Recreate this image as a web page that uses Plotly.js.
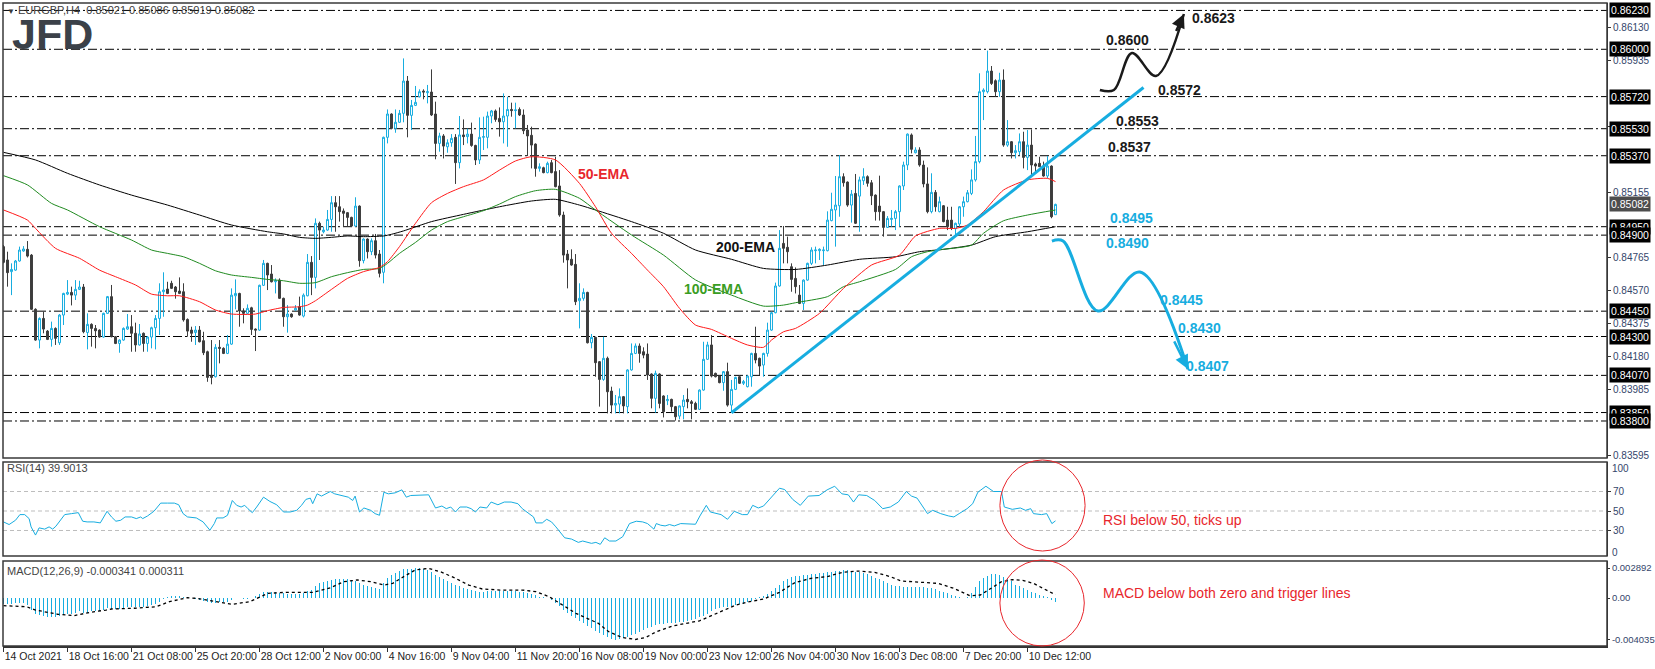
<!DOCTYPE html>
<html><head><meta charset="utf-8">
<script src="https://cdn.plot.ly/plotly-3.0.1.min.js"></script>
<style>html,body{margin:0;padding:0;background:#fff;}#chart{width:1655px;height:669px;}</style>
</head><body><div id="chart"></div>
<script>
// ---------------- DATA ----------------
const symbol = 'EURGBP,H4';
const xLabels = ['14 Oct 2021','18 Oct 16:00','21 Oct 08:00','25 Oct 20:00','28 Oct 12:00','2 Nov 00:00','4 Nov 16:00','9 Nov 04:00','11 Nov 20:00','16 Nov 08:00','19 Nov 00:00','23 Nov 12:00','26 Nov 04:00','30 Nov 16:00','3 Dec 08:00','7 Dec 20:00','10 Dec 12:00'];
const barsPerLabel = 16;

const open = [0.84832,0.84753,0.84684,0.84693,0.84747,0.84806,0.84816,0.84782,0.84461,0.84279,0.84407,0.84332,0.84283,0.84348,0.84263,0.84427,0.84551,0.84561,0.84545,0.84579,0.84593,0.84324,0.84372,0.84348,0.84338,0.84297,0.84437,0.84536,0.84299,0.84259,0.84279,0.84344,0.84358,0.84319,0.84250,0.84319,0.84259,0.84297,0.84352,0.84407,0.84565,0.84581,0.84615,0.84593,0.84569,0.84565,0.84401,0.84338,0.84324,0.84338,0.84275,0.84210,0.84066,0.84062,0.84236,0.84230,0.84200,0.84255,0.84541,0.84555,0.84451,0.84437,0.84470,0.84344,0.84338,0.84603,0.84733,0.84670,0.84624,0.84634,0.84526,0.84417,0.84433,0.84457,0.84476,0.84421,0.84541,0.84739,0.84650,0.84970,0.84920,0.84930,0.84993,0.85092,0.85068,0.85043,0.85033,0.85005,0.84954,0.85072,0.84749,0.84877,0.84802,0.84867,0.84788,0.84680,0.85479,0.85617,0.85532,0.85568,0.85621,0.85812,0.85609,0.85668,0.85719,0.85753,0.85743,0.85747,0.85617,0.85443,0.85487,0.85423,0.85447,0.85479,0.85329,0.85493,0.85483,0.85498,0.85431,0.85345,0.85479,0.85479,0.85605,0.85635,0.85591,0.85571,0.85605,0.85644,0.85637,0.85644,0.85611,0.85522,0.85491,0.85439,0.85295,0.85299,0.85270,0.85329,0.85276,0.85191,0.85019,0.84788,0.84757,0.84727,0.84512,0.84526,0.84561,0.84263,0.84295,0.84151,0.84046,0.84171,0.83977,0.83894,0.83900,0.83944,0.83885,0.84102,0.84200,0.84244,0.84210,0.84196,0.84078,0.83934,0.84078,0.83948,0.83920,0.83928,0.83885,0.83829,0.83885,0.83928,0.83914,0.83904,0.83869,0.83983,0.84165,0.84250,0.84082,0.84066,0.84027,0.84092,0.83894,0.83987,0.84062,0.84023,0.84003,0.84062,0.84200,0.84171,0.84131,0.84200,0.84338,0.84441,0.84599,0.84851,0.84828,0.84713,0.84644,0.84545,0.84496,0.84634,0.84733,0.84808,0.84808,0.84808,0.84808,0.84986,0.85049,0.85074,0.85246,0.85214,0.85078,0.85147,0.85131,0.85222,0.85246,0.85210,0.85137,0.85072,0.85039,0.84946,0.84993,0.84999,0.85039,0.85191,0.85315,0.85493,0.85388,0.85404,0.85315,0.85203,0.85039,0.85153,0.85039,0.85074,0.84989,0.84989,0.84938,0.84966,0.85068,0.85098,0.85147,0.85227,0.85335,0.85749,0.85749,0.85871,0.85814,0.85749,0.85818,0.85433,0.85453,0.85388,0.85394,0.85453,0.85360,0.85433,0.85321,0.85325,0.85309,0.85250,0.85309,0.85021];
const high = [0.84841,0.84802,0.84733,0.84753,0.84832,0.84835,0.84865,0.84788,0.84467,0.84413,0.84447,0.84338,0.84388,0.84354,0.84433,0.84559,0.84634,0.84595,0.84634,0.84630,0.84611,0.84437,0.84378,0.84368,0.84342,0.84441,0.84540,0.84605,0.84303,0.84283,0.84354,0.84433,0.84427,0.84382,0.84374,0.84324,0.84303,0.84358,0.84427,0.84615,0.84680,0.84624,0.84630,0.84599,0.84650,0.84615,0.84407,0.84358,0.84362,0.84362,0.84328,0.84216,0.84279,0.84255,0.84279,0.84236,0.84309,0.84585,0.84638,0.84559,0.84467,0.84490,0.84476,0.84348,0.84607,0.84753,0.84737,0.84723,0.84644,0.84644,0.84530,0.84486,0.84437,0.84486,0.84536,0.84555,0.84788,0.84776,0.84999,0.84980,0.84950,0.85049,0.85131,0.85131,0.85131,0.85058,0.85037,0.85009,0.85124,0.85076,0.84881,0.84881,0.84881,0.84907,0.84812,0.85483,0.85644,0.85621,0.85644,0.85641,0.85946,0.85842,0.85700,0.85783,0.85763,0.85763,0.85789,0.85881,0.85690,0.85506,0.85498,0.85467,0.85498,0.85498,0.85605,0.85585,0.85530,0.85566,0.85435,0.85597,0.85601,0.85631,0.85641,0.85644,0.85656,0.85739,0.85719,0.85684,0.85684,0.85656,0.85644,0.85552,0.85542,0.85443,0.85325,0.85305,0.85335,0.85345,0.85364,0.85285,0.85039,0.84812,0.84816,0.84788,0.84615,0.84585,0.84565,0.84315,0.84299,0.84155,0.84299,0.84181,0.84003,0.83954,0.83993,0.83948,0.84106,0.84259,0.84259,0.84259,0.84236,0.84259,0.84082,0.84098,0.84082,0.83952,0.83954,0.83932,0.83889,0.83892,0.83954,0.83993,0.83924,0.83914,0.83987,0.84269,0.84269,0.84309,0.84086,0.84070,0.84096,0.84145,0.84043,0.84062,0.84072,0.84043,0.84070,0.84204,0.84358,0.84175,0.84204,0.84382,0.84447,0.84619,0.84930,0.84954,0.84891,0.84733,0.84709,0.84605,0.84638,0.84737,0.84828,0.84832,0.84822,0.84832,0.85041,0.85151,0.85250,0.85374,0.85266,0.85218,0.85167,0.85262,0.85246,0.85296,0.85254,0.85226,0.85141,0.85252,0.85043,0.85013,0.85049,0.85049,0.85195,0.85335,0.85502,0.85502,0.85420,0.85420,0.85341,0.85301,0.85266,0.85167,0.85128,0.85078,0.85068,0.85068,0.84974,0.85072,0.85128,0.85167,0.85289,0.85487,0.85858,0.85769,0.85992,0.85901,0.85822,0.85861,0.85881,0.85581,0.85457,0.85433,0.85502,0.85512,0.85522,0.85526,0.85329,0.85364,0.85335,0.85368,0.85313,0.85086];
const low = [0.84733,0.84595,0.84545,0.84689,0.84743,0.84802,0.84768,0.84457,0.84275,0.84230,0.84319,0.84279,0.84240,0.84250,0.84250,0.84368,0.84545,0.84484,0.84516,0.84575,0.84319,0.84224,0.84240,0.84230,0.84293,0.84293,0.84433,0.84295,0.84255,0.84204,0.84275,0.84340,0.84210,0.84210,0.84246,0.84210,0.84210,0.84230,0.84224,0.84309,0.84417,0.84551,0.84581,0.84524,0.84551,0.84388,0.84299,0.84269,0.84250,0.84265,0.84190,0.84032,0.84017,0.84058,0.84141,0.84196,0.84196,0.84251,0.84461,0.84358,0.84378,0.84433,0.84309,0.84214,0.84334,0.84599,0.84575,0.84620,0.84555,0.84522,0.84358,0.84323,0.84411,0.84453,0.84423,0.84413,0.84538,0.84545,0.84585,0.84753,0.84911,0.84926,0.84920,0.84920,0.84980,0.84950,0.84950,0.84950,0.84950,0.84713,0.84733,0.84762,0.84782,0.84762,0.84650,0.84615,0.85443,0.85526,0.85506,0.85564,0.85568,0.85479,0.85522,0.85664,0.85715,0.85704,0.85680,0.85605,0.85349,0.85394,0.85354,0.85388,0.85423,0.85203,0.85295,0.85433,0.85443,0.85423,0.85315,0.85321,0.85404,0.85414,0.85562,0.85571,0.85483,0.85443,0.85423,0.85601,0.85532,0.85605,0.85498,0.85368,0.85295,0.85246,0.85276,0.85266,0.85266,0.85266,0.85183,0.85009,0.84737,0.84585,0.84719,0.84486,0.84348,0.84512,0.84259,0.84230,0.84062,0.83885,0.84038,0.83845,0.83845,0.83845,0.83845,0.83845,0.83845,0.84098,0.84196,0.84145,0.84171,0.84043,0.83875,0.83849,0.83875,0.83821,0.83894,0.83855,0.83802,0.83810,0.83810,0.83875,0.83810,0.83865,0.83865,0.83979,0.84161,0.84058,0.84058,0.84023,0.83979,0.83885,0.83849,0.83983,0.84019,0.84013,0.83999,0.84003,0.84141,0.84072,0.84062,0.84181,0.84334,0.84437,0.84595,0.84733,0.84733,0.84565,0.84555,0.84492,0.84457,0.84630,0.84723,0.84733,0.84753,0.84723,0.84804,0.84982,0.84832,0.85009,0.85187,0.85068,0.84974,0.84966,0.84920,0.85197,0.85187,0.85078,0.84986,0.84986,0.84891,0.84942,0.84950,0.84930,0.84950,0.85167,0.85285,0.85384,0.85384,0.85305,0.85183,0.85029,0.85029,0.85039,0.85035,0.84976,0.84930,0.84930,0.84891,0.84950,0.85009,0.85094,0.85137,0.85217,0.85325,0.85581,0.85739,0.85789,0.85719,0.85719,0.85423,0.85423,0.85354,0.85354,0.85374,0.85295,0.85285,0.85246,0.85266,0.85305,0.85246,0.85236,0.85000,0.85019];
const close = [0.84739,0.84678,0.84697,0.84747,0.84812,0.84818,0.84776,0.84461,0.84279,0.84407,0.84344,0.84283,0.84348,0.84289,0.84427,0.84555,0.84561,0.84545,0.84579,0.84593,0.84328,0.84372,0.84348,0.84334,0.84297,0.84437,0.84536,0.84299,0.84259,0.84279,0.84348,0.84358,0.84319,0.84250,0.84315,0.84259,0.84297,0.84352,0.84407,0.84565,0.84575,0.84555,0.84585,0.84565,0.84555,0.84398,0.84332,0.84319,0.84338,0.84269,0.84204,0.84058,0.84058,0.84236,0.84230,0.84200,0.84255,0.84545,0.84555,0.84451,0.84437,0.84467,0.84342,0.84338,0.84603,0.84733,0.84664,0.84624,0.84630,0.84526,0.84417,0.84433,0.84417,0.84467,0.84427,0.84545,0.84739,0.84650,0.84970,0.84930,0.84930,0.84993,0.85092,0.85068,0.85039,0.85029,0.85005,0.84954,0.85072,0.84749,0.84877,0.84802,0.84867,0.84782,0.84674,0.85479,0.85617,0.85532,0.85568,0.85621,0.85812,0.85609,0.85668,0.85686,0.85749,0.85747,0.85749,0.85611,0.85443,0.85487,0.85427,0.85447,0.85473,0.85329,0.85493,0.85483,0.85498,0.85431,0.85345,0.85479,0.85483,0.85605,0.85635,0.85585,0.85571,0.85605,0.85644,0.85637,0.85641,0.85611,0.85518,0.85487,0.85433,0.85295,0.85305,0.85270,0.85325,0.85270,0.85187,0.85019,0.84782,0.84753,0.84723,0.84506,0.84526,0.84561,0.84263,0.84295,0.84145,0.84046,0.84171,0.83973,0.83894,0.83904,0.83944,0.83889,0.84102,0.84200,0.84244,0.84200,0.84190,0.84072,0.83934,0.84082,0.83904,0.83855,0.83928,0.83885,0.83825,0.83889,0.83924,0.83914,0.83904,0.83869,0.83983,0.84165,0.84250,0.84066,0.84062,0.84027,0.84092,0.83894,0.83987,0.84058,0.84023,0.84033,0.84066,0.84200,0.84161,0.84125,0.84200,0.84338,0.84441,0.84599,0.84822,0.84822,0.84802,0.84638,0.84595,0.84496,0.84634,0.84733,0.84812,0.84812,0.84816,0.84812,0.84989,0.85053,0.85078,0.85246,0.85210,0.85078,0.85143,0.84970,0.85227,0.85246,0.85207,0.85133,0.85039,0.85039,0.84946,0.84999,0.84999,0.85039,0.85191,0.85315,0.85498,0.85408,0.85404,0.85315,0.85203,0.85039,0.85153,0.85068,0.85098,0.84980,0.84950,0.84940,0.84970,0.85068,0.85098,0.85151,0.85227,0.85335,0.85749,0.85759,0.85871,0.85798,0.85749,0.85818,0.85433,0.85453,0.85388,0.85400,0.85453,0.85360,0.85433,0.85315,0.85309,0.85305,0.85250,0.85309,0.85009,0.85082];

const ema200X = [0,8,16,24,32,41,49,57,66,70,74,78,82,86,90,95,97,100,107,115,124,132,138,144,148,157,165,173,182,190,198,206,214,223,229,235,242,248,256,263];
const ema200Y = [0.85390,0.85345,0.85266,0.85197,0.85137,0.85078,0.85019,0.84960,0.84920,0.84907,0.84887,0.84881,0.84887,0.84895,0.84891,0.84895,0.84905,0.84925,0.84980,0.85023,0.85068,0.85102,0.85112,0.85078,0.85049,0.84980,0.84911,0.84812,0.84757,0.84703,0.84697,0.84723,0.84757,0.84772,0.84802,0.84816,0.84841,0.84891,0.84920,0.84950];
const ema100X = [0,6,12,16,24,32,37,41,45,49,53,57,62,66,70,74,78,82,86,90,94,96,99,103,107,111,115,120,124,128,133,138,144,148,157,165,173,182,190,195,198,206,210,214,223,227,231,235,242,245,250,256,263];
const ema100Y = [0.85252,0.85197,0.85088,0.85049,0.84950,0.84871,0.84812,0.84792,0.84772,0.84733,0.84689,0.84664,0.84650,0.84638,0.84630,0.84615,0.84619,0.84654,0.84678,0.84697,0.84703,0.84733,0.84792,0.84857,0.84930,0.84980,0.85009,0.85045,0.85084,0.85128,0.85163,0.85171,0.85118,0.85049,0.84901,0.84782,0.84635,0.84545,0.84480,0.84486,0.84500,0.84536,0.84595,0.84624,0.84697,0.84772,0.84802,0.84816,0.84841,0.84911,0.84985,0.85019,0.85049];
const ema50X = [0,6,8,13,19,24,28,33,37,41,44,49,53,57,63,66,70,74,76,78,82,86,90,94,96,99,103,107,111,115,120,124,128,132,138,144,148,152,157,161,165,169,173,177,182,186,190,192,195,198,204,210,217,224,228,234,238,241,245,250,256,261,263];
const ema50Y = [0.85049,0.84989,0.84940,0.84822,0.84763,0.84693,0.84654,0.84605,0.84551,0.84541,0.84541,0.84506,0.84457,0.84433,0.84433,0.84453,0.84472,0.84476,0.84486,0.84512,0.84579,0.84644,0.84684,0.84709,0.84743,0.84832,0.84970,0.85092,0.85147,0.85187,0.85227,0.85285,0.85339,0.85364,0.85345,0.85206,0.85068,0.84911,0.84792,0.84693,0.84595,0.84467,0.84368,0.84342,0.84289,0.84250,0.84236,0.84279,0.84328,0.84348,0.84437,0.84585,0.84723,0.84782,0.84895,0.84940,0.84940,0.84960,0.85039,0.85167,0.85227,0.85236,0.85217];

const rsiX = [0,1.4,3,4.1,5.3,6.4,6.9,8,8.9,10.3,11.4,12.3,13.1,14.2,15.3,17,18.7,19.8,20.9,22.6,24.2,25.9,27,28.1,29.3,30.4,32,33.2,34.3,34.8,36,37.6,39.3,41,42.7,43.8,44.9,46,48.2,49.9,51.6,52.7,53.3,54.9,56,57.2,58.3,59.4,60.3,61.1,62.2,63.3,65,66.6,68.3,70,71.7,73.3,74.5,75.6,76.7,77.3,78.4,79.5,81.7,82.8,84.5,86.2,87.3,87.9,89,90.1,91.8,92.9,94,95.1,96.2,97.9,99.6,100.7,101.8,104.6,106.3,108,109.6,110.7,111.8,113,114.1,115.8,116.9,118,119.1,120.8,121.9,123.6,125.2,126.9,128.6,129.7,131.4,132.5,133.1,134.7,135.8,137,138.1,139.2,140.3,142,143.7,144.8,145.9,147,148.1,149.2,150.3,151.5,153.1,154.8,156.5,158.2,159.8,161,162.6,163.2,164.3,165.4,166.5,167.7,169.3,171.6,173,174.1,175.7,176.7,178.1,179.4,181,182.7,184.7,186,187.3,188.7,190,192,194,195.3,197.3,199.2,201.2,203.9,205.9,207.8,209.6,211.2,212.5,213.8,215.8,217.8,219.8,221.7,223.7,225.7,227,228.4,229.7,231,232.3,234.3,236.3,237.6,238.9,240.9,242.3,243.6,245.6,247.5,249.5,250.2,252.2,254.2,255.5,256.8,257.5,259.5,260.8,262.1,263];
const rsiY = [38.8,36.1,40.5,46.3,46.3,42.2,33.7,25.3,32.7,31.4,33.7,31.4,34.4,40.5,46.3,47.3,48.3,39.5,38.8,38.8,37.8,49.7,43.9,39.5,40.5,43.9,43.9,42.2,43.9,42.2,44.9,49.7,58.1,58.1,58.1,56.4,47.3,43.9,42.9,38.8,30.3,37.1,42.9,42.9,45.6,60.8,55.8,54.1,55.8,52.4,48.3,54.1,64.2,59.8,56.4,49.0,49.0,50.7,55.8,61.9,63.2,57.5,67.6,65.3,70.0,67.6,65.9,64.2,60.8,65.3,49.0,53.1,50.7,47.3,45.6,69.3,67.6,68.6,71.7,64.2,65.9,65.9,66.6,53.1,55.1,52.4,54.1,49.0,54.1,54.1,52.4,49.0,54.1,53.1,59.2,56.4,59.2,59.2,57.5,52.4,47.3,43.9,37.8,37.8,41.5,38.8,33.7,28.6,22.5,21.2,17.8,19.2,17.8,16.8,17.8,15.8,22.5,19.2,19.2,23.6,37.1,39.5,38.8,37.1,31.4,37.1,35.4,34.7,36.1,34.7,37.1,37.1,36.4,44.9,55.8,49.0,47.3,46.3,41.5,49.7,46.3,46.3,55.8,53.1,55.1,64.2,73.4,72.0,61.9,55.8,65.3,65.9,71.7,75.4,67.6,66.6,59.2,66.6,65.9,60.8,52.4,54.1,59.2,70.0,65.3,63.2,55.8,47.3,50.7,47.3,44.9,43.9,47.3,52.4,57.5,69.3,75.4,70.0,70.0,54.1,51.7,53.1,50.7,52.4,47.3,46.3,47.3,37.1,39.9013];
const rsiLevels = [30, 50, 70];

const macdHist = [-0.0006,-0.0006,-0.0006,-0.0005,-0.0005,-0.0005,-0.0007,-0.0012,-0.0015,-0.0016,
-0.0017,-0.0018,-0.0018,-0.0018,-0.0017,-0.0016,-0.0015,-0.0015,-0.0014,-0.0013,
-0.0014,-0.0014,-0.0013,-0.0013,-0.0013,-0.0012,-0.0010,-0.0011,-0.0011,-0.0011,
-0.0010,-0.0009,-0.0009,-0.0009,-0.0009,-0.0009,-0.0008,-0.0007,-0.0006,-0.0004,
-0.0001,0.0001,0.0002,0.0002,0.0002,0.0001,0.0001,0.0000,-0.0001,-0.0002,
-0.0003,-0.0004,-0.0005,-0.0005,-0.0004,-0.0004,-0.0004,-0.0002,0.0000,0.0000,
-0.0001,-0.0001,0.0000,0.0002,0.0004,0.0006,0.0006,0.0006,0.0006,0.0005,
0.0005,0.0004,0.0004,0.0004,0.0004,0.0005,0.0007,0.0008,0.0012,0.0014,
0.0015,0.0016,0.0017,0.0018,0.0018,0.0018,0.0018,0.0017,0.0016,0.0014,
0.0013,0.0012,0.0011,0.0010,0.0009,0.0014,0.0019,0.0022,0.0024,0.0026,
0.0028,0.0028,0.0028,0.0029,0.0029,0.0028,0.0027,0.0025,0.0022,0.0020,
0.0018,0.0016,0.0014,0.0013,0.0012,0.0010,0.0009,0.0008,0.0007,0.0006,
0.0006,0.0007,0.0007,0.0007,0.0007,0.0007,0.0007,0.0007,0.0007,0.0006,
0.0006,0.0005,0.0004,0.0003,0.0001,0.0001,0.0000,-0.0002,-0.0005,-0.0008,
-0.0012,-0.0014,-0.0017,-0.0019,-0.0022,-0.0024,-0.0027,-0.0029,-0.0032,-0.0034,
-0.0036,-0.0038,-0.0040,-0.004035,-0.0040,-0.0039,-0.0038,-0.0036,-0.0035,-0.0033,
-0.0031,-0.0029,-0.0028,-0.0026,-0.0025,-0.0025,-0.0024,-0.0024,-0.0024,-0.0023,
-0.0023,-0.0022,-0.0021,-0.0020,-0.0018,-0.0017,-0.0015,-0.0013,-0.0011,-0.0010,
-0.0009,-0.0009,-0.0008,-0.0007,-0.0006,-0.0006,-0.0004,-0.0003,-0.0001,0.0001,
0.0002,0.0004,0.0007,0.0010,0.0013,0.0016,0.0018,0.0020,0.0021,0.0021,
0.0022,0.0022,0.0023,0.0023,0.0024,0.0024,0.0025,0.0025,0.0026,0.0026,
0.0027,0.0027,0.0026,0.0025,0.0025,0.0024,0.0023,0.0021,0.0019,0.0018,
0.0016,0.0014,0.0013,0.0012,0.0012,0.0011,0.0011,0.0011,0.0011,0.0011,
0.0011,0.0010,0.0010,0.0009,0.0007,0.0006,0.0005,0.0003,0.0002,0.0001,
0.0000,0.0001,0.0005,0.0011,0.0016,0.0019,0.0021,0.0023,0.0023,0.0022,
0.0020,0.0018,0.0016,0.0013,0.0012,0.0010,0.0008,0.0006,0.0005,0.0003,
0.0002,0.0001,-0.0002,-0.000341];
const signalX = [0,5.8,8,10.3,13.6,17.7,21.4,25.6,27,32.6,38.2,41.5,46,48.2,52.7,57.2,61.6,66.1,70.6,77.3,81.7,85.1,88.4,91.8,95.1,97.3,99.6,102.9,106.3,109.6,113,116.3,119.7,124.1,129.7,133.1,136.4,139.8,143.1,148.7,151.3,154.6,158,160.6,163.2,167.2,171.2,174,177,180,183,186,190,194,197.9,201.9,205.9,209.8,213.8,217.8,221.7,224.4,229.7,233.7,237.6,240.3,241.6,244.2,246.9,249.5,252.2,254.8,257.5,261.4,263];
const signalY = [-0.00074,-0.00084,-0.00116,-0.00132,-0.00157,-0.0017,-0.0014,-0.00116,-0.00106,-0.00099,-0.00084,-0.00035,0.00003,-0.00003,-0.00035,-0.00061,-0.00035,0.00045,0.00055,0.00055,0.00099,0.00157,0.00174,0.00157,0.00125,0.00141,0.00196,0.0027,0.00286,0.00248,0.0019,0.00125,0.00087,0.00077,0.00077,0.00061,0.00013,-0.00067,-0.00148,-0.00244,-0.00325,-0.0038,-0.0040,-0.0038,-0.00325,-0.0027,-0.00244,-0.0022,-0.0017,-0.0012,-0.0007,-0.0004,-0.0001,0.00055,0.0015,0.0019,0.00206,0.00248,0.0026,0.00248,0.00206,0.00164,0.0015,0.00141,0.00093,0.00045,0.00022,0.00029,0.00093,0.00157,0.00177,0.0017,0.00141,0.00061,0.000311];
const macdTicks = [0.002892, 0, -0.004035];

const levels = [0.8623,0.8600,0.8572,0.8553,0.8537,0.8495,0.8490,0.8445,0.8430,0.8407,0.8385,0.8380];
const upTargets = [0.8623,0.8600,0.8572,0.8553,0.8537];
const downTargets = [0.8495,0.8490,0.8445,0.8430,0.8407];
// regular price-scale ticks (those hidden under level boxes are left out)
const priceTicks = [0.83595,0.83985,0.84180,0.84375,0.84570,0.84765,0.85155,0.85545,0.85935,0.86130];

const trendX = [182, 285];
const trendY = [0.83849, 0.85774];
const upPathX = [274.1, 277.6, 282.1, 288.1, 295.1];
const upPathY = [0.85759, 0.85759, 0.85978, 0.85842, 0.86209];
const downPathX = [262.1, 264.9, 273.6, 284.1, 296.1];
const downPathY = [0.84865, 0.84865, 0.84451, 0.84682, 0.84108];

// ---------------- STYLE / LAYOUT ----------------
const CYAN = '#17ade0';
const DARK = '#3d3d3d';
const RED = '#e8262c';
const FONT = 'Liberation Sans, Arial, sans-serif';
const AXC = '#34466b';
const idx = open.map((_, i) => i);
const nLast = close.length - 1;

const dMain = [0.2924, 1], dRsi = [0.1400, 0.2862], dMacd = [0, 0.1322];

const traces = [
  {type:'candlestick', x:idx, open:open, high:high, low:low, close:close, xaxis:'x', yaxis:'y',
   whiskerwidth:0, hoverinfo:'none', showlegend:false,
   increasing:{line:{color:CYAN, width:1}, fillcolor:'#ffffff'},
   decreasing:{line:{color:DARK, width:1}, fillcolor:DARK}},
  {type:'scatter', mode:'lines', x:ema200X, y:ema200Y, yaxis:'y', line:{color:'#000000', width:1, shape:'spline', smoothing:0.6}, hoverinfo:'none'},
  {type:'scatter', mode:'lines', x:ema100X, y:ema100Y, yaxis:'y', line:{color:'#1f8a1f', width:1, shape:'spline', smoothing:0.6}, hoverinfo:'none'},
  {type:'scatter', mode:'lines', x:ema50X, y:ema50Y, yaxis:'y', line:{color:'#ff1a1a', width:1, shape:'spline', smoothing:0.6}, hoverinfo:'none'},
  {type:'scatter', mode:'lines', x:trendX, y:trendY, yaxis:'y', line:{color:CYAN, width:3}, hoverinfo:'none'},
  {type:'scatter', mode:'lines', x:upPathX, y:upPathY, yaxis:'y', line:{color:'#1a1a1a', width:2.5, shape:'spline', smoothing:1}, hoverinfo:'none', cliponaxis:false},
  {type:'scatter', mode:'lines', x:downPathX, y:downPathY, yaxis:'y', line:{color:CYAN, width:3, shape:'spline', smoothing:1}, hoverinfo:'none', cliponaxis:false},
  {type:'scatter', mode:'lines', x:rsiX, y:rsiY, yaxis:'y2', line:{color:CYAN, width:1}, hoverinfo:'none'},
  {type:'bar', x:idx, y:macdHist, yaxis:'y3', width:0.3, marker:{color:CYAN, line:{width:0}}, hoverinfo:'none'},
  {type:'scatter', mode:'lines', x:signalX, y:signalY, yaxis:'y3', line:{color:'#000000', width:1.3, dash:'dot'}, hoverinfo:'none'}
];

const shapes = [];
levels.forEach(v => shapes.push({type:'line', xref:'paper', x0:0, x1:1, yref:'y', y0:v, y1:v, layer:'below',
  line:{color:'#000000', width:1, dash:'9px,3px,2px,3px'}}));
rsiLevels.forEach(v => shapes.push({type:'line', xref:'paper', x0:0, x1:1, yref:'y2', y0:v, y1:v, layer:'below',
  line:{color:'#bdbdbd', width:1, dash:'4px,3px'}}));
[dMain, dRsi, dMacd].forEach(d => shapes.push({type:'rect', xref:'paper', yref:'paper', x0:0, x1:1, y0:d[0], y1:d[1],
  line:{color:'#3a3a3a', width:1.5}, fillcolor:'rgba(0,0,0,0)', layer:'above'}));
shapes.push({type:'circle', xref:'x', yref:'paper', x0:249.1, x1:270.4, y0:0.1477, y1:0.2893, line:{color:RED, width:1}});
shapes.push({type:'circle', xref:'x', yref:'paper', x0:249.1, x1:270.2, y0:0.0, y1:0.1337, line:{color:RED, width:1}});

const ann = [];
ann.push({xref:'paper', yref:'paper', x:0.001, y:0.9895, xanchor:'left', yanchor:'middle', showarrow:false,
  text:'<span style="font-size:8px">▼</span> ' + symbol + '  ' + [open[nLast], high[nLast], low[nLast], close[nLast]].map(v => v.toFixed(5)).join(' '),
  font:{family:FONT, size:11, color:'#3a3a3a'}});
ann.push({xref:'paper', yref:'paper', x:0.0045, y:0.952, xanchor:'left', yanchor:'middle', showarrow:false,
  text:'<b>JFD</b>', font:{family:'Liberation Sans, Arial', size:43, color:'#3b4149'}});
ann.push({xref:'paper', yref:'paper', x:0.0012, y:0.2768, xanchor:'left', yanchor:'middle', showarrow:false,
  text:'RSI(14) ' + rsiY[rsiY.length-1].toFixed(4), font:{family:FONT, size:11, color:'#444'}});
ann.push({xref:'paper', yref:'paper', x:0.0012, y:0.1166, xanchor:'left', yanchor:'middle', showarrow:false,
  text:'MACD(12,26,9) ' + macdHist[nLast].toFixed(6) + ' ' + signalY[signalY.length-1].toFixed(6), font:{family:FONT, size:11, color:'#444'}});
ann.push({xref:'paper', yref:'paper', x:1, xshift:3, y:0.2768, xanchor:'left', yanchor:'middle', showarrow:false, text:'100', font:{family:FONT, size:10, color:AXC}});
ann.push({xref:'paper', yref:'paper', x:1, xshift:3, y:0.1451, xanchor:'left', yanchor:'middle', showarrow:false, text:'0', font:{family:FONT, size:10, color:AXC}});
levels.forEach(v => ann.push({xref:'paper', yref:'y', x:1, xshift:2, y:v, xanchor:'left', yanchor:'middle', showarrow:false,
  text:v.toFixed(5), bgcolor:'#000000', borderpad:1, font:{family:FONT, size:10.5, color:'#ffffff'}}));
ann.push({xref:'paper', yref:'y', x:1, xshift:2, y:close[nLast], xanchor:'left', yanchor:'middle', showarrow:false,
  text:close[nLast].toFixed(5), bgcolor:'#4d4d4d', borderpad:1, font:{family:FONT, size:10.5, color:'#ffffff'}});
const upLabelPos = [[302.6,0.86185],[280.9,0.86055],[294.1,0.85759],[283.4,0.85576],[281.4,0.85422]];
const downLabelPos = [[281.9,0.85001],[280.9,0.84854],[294.6,0.84516],[299.1,0.84350],[301.1,0.84126]];
upTargets.forEach((v,i) => ann.push({xref:'x', yref:'y', x:upLabelPos[i][0], y:upLabelPos[i][1], showarrow:false,
  text:'<b>'+v.toFixed(4)+'</b>', font:{family:FONT, size:14, color:'#1a1a1a'}}));
downTargets.forEach((v,i) => ann.push({xref:'x', yref:'y', x:downLabelPos[i][0], y:downLabelPos[i][1], showarrow:false,
  text:'<b>'+v.toFixed(4)+'</b>', font:{family:FONT, size:14, color:CYAN}}));
ann.push({xref:'x', yref:'y', x:149.9, y:0.85262, showarrow:false, text:'<b>50-EMA</b>', font:{family:FONT, size:14, color:RED}});
ann.push({xref:'x', yref:'y', x:185.4, y:0.84830, showarrow:false, text:'<b>200-EMA</b>', font:{family:FONT, size:14, color:'#111'}});
ann.push({xref:'x', yref:'y', x:177.4, y:0.84581, showarrow:false, text:'<b>100-EMA</b>', font:{family:FONT, size:14, color:'#3a9d23'}});
function head(xs, ys, color){
  const n = xs.length - 1;
  ann.push({xref:'x', yref:'y', axref:'x', ayref:'y', x:xs[n], y:ys[n],
    ax:xs[n] - 0.3*(xs[n]-xs[n-1]), ay:ys[n] - 0.3*(ys[n]-ys[n-1]),
    showarrow:true, arrowhead:2, arrowsize:1.1, arrowwidth:2.5, arrowcolor:color, standoff:0, text:''});
}
head(upPathX, upPathY, '#1a1a1a');
head(downPathX, downPathY, CYAN);
ann.push({xref:'x', yref:'paper', x:274.4, y:0.196, xanchor:'left', yanchor:'middle', showarrow:false,
  text:'RSI below 50, ticks up', font:{family:FONT, size:14, color:RED}});
ann.push({xref:'x', yref:'paper', x:274.4, y:0.0824, xanchor:'left', yanchor:'middle', showarrow:false,
  text:'MACD below both zero and trigger lines', font:{family:FONT, size:14, color:RED}});

const tickVals = xLabels.map((_, i) => i * barsPerLabel);

const layout = {
  width:1655, height:669, margin:{l:3, r:48, t:3, b:23},
  paper_bgcolor:'#ffffff', plot_bgcolor:'#ffffff', showlegend:false,
  font:{family:FONT, size:10, color:'#333'},
  bargap:0,
  xaxis:{range:[-0.125, 400.875], anchor:'y3', tickvals:tickVals, ticktext:xLabels, tickangle:0, ticks:'outside', ticklen:4,
    tickcolor:'#333', ticklabelposition:'outside right', showgrid:false, zeroline:false, showline:true,
    linecolor:'#333', linewidth:1.5, rangeslider:{visible:false}, tickfont:{family:FONT, size:10.5, color:'#222'}},
  yaxis:{domain:dMain, range:[0.83581, 0.86274], side:'right', anchor:'x', tickvals:priceTicks, tickformat:'.5f',
    ticks:'outside', ticklen:3, tickcolor:'#333', showgrid:false, zeroline:false, showline:true, linecolor:'#333',
    tickfont:{family:FONT, size:10, color:AXC}},
  yaxis2:{domain:dRsi, range:[3.85, 100.3], side:'right', anchor:'x', tickvals:rsiLevels, ticks:'outside', ticklen:3,
    tickcolor:'#333', showgrid:false, zeroline:false, showline:true, linecolor:'#333', tickfont:{family:FONT, size:10, color:AXC}},
  yaxis3:{domain:dMacd, range:[-0.00463, 0.00357], side:'right', anchor:'x', tickvals:macdTicks,
    ticktext:['0.002892','0.00','-0.004035'], ticks:'outside', ticklen:2, tickcolor:'#333', showgrid:false,
    zeroline:false, showline:true, linecolor:'#333', tickfont:{family:FONT, size:9.5, color:AXC}},
  shapes:shapes, annotations:ann
};

Plotly.newPlot('chart', traces, layout, {staticPlot:true, displayModeBar:false});
</script>
</body></html>
